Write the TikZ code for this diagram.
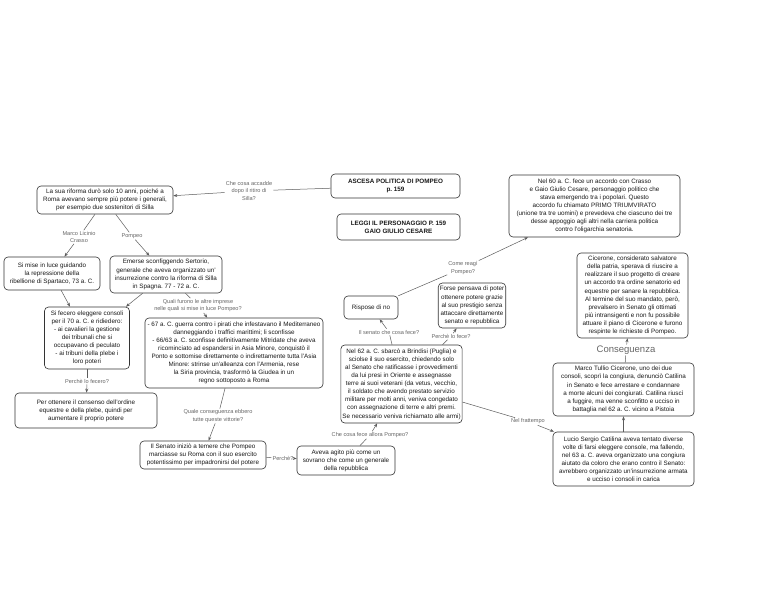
\documentclass[tikz,border=0pt]{standalone}
\usepackage{fontspec}
\setmainfont{Liberation Sans}
\usetikzlibrary{arrows.meta}
\frenchspacing
\definecolor{edgec}{HTML}{333333}
\definecolor{labc}{HTML}{666666}
\tikzset{
  box/.style={draw=edgec, line width=0.6pt, rounded corners=4pt, align=center,
    font=\fontsize{6.3}{8.1}\selectfont, inner sep=1.5pt, text=black!90},
  lab/.style={align=center, font=\fontsize{5.6}{7.2}\selectfont, text=labc, inner sep=1pt},
  conn/.style={draw=edgec!80, line width=0.5pt},
  arr/.style={conn, -{Stealth[length=4pt,width=3pt]}}
}
\begin{document}
\begin{tikzpicture}[x=1pt,y=-1pt]
\useasboundingbox (0,0) rectangle (768,593);
\fill[white] (0,0) rectangle (768,593);

% boxes
\node[box, minimum width=129pt, minimum height=24pt, font=\bfseries\fontsize{6.3}{8.1}\selectfont] (A) at (395.5,186) {ASCESA POLITICA DI POMPEO\\p. 159};
\node[box, minimum width=123pt, minimum height=26pt, font=\bfseries\fontsize{6.3}{8.1}\selectfont] (B) at (398.5,227) {LEGGI IL PERSONAGGIO P. 159\\GAIO GIULIO CESARE};
\node[box, minimum width=171pt, minimum height=62pt] (C) at (594.5,206) {Nel 60 a. C. fece un accordo con Crasso\\e Gaio Giulio Cesare, personaggio politico che\\stava emergendo tra i popolari. Questo\\accordo fu chiamato PRIMO TRIUMVIRATO\\(unione tra tre uomini) e prevedeva che ciascuno dei tre\\desse appoggio agli altri nella carriera politica\\contro l'oligarchia senatoria.};
\node[box, minimum width=136pt, minimum height=28pt] (D) at (105,200) {La sua riforma durò solo 10 anni, poiché a\\Roma avevano sempre più potere i generali,\\per esempio due sostenitori di Silla};
\node[box, minimum width=96pt, minimum height=33pt] (E) at (52,273.5) {Si mise in luce guidando\\la repressione della\\ribellione di Spartaco, 73 a. C.};
\node[box, minimum width=112pt, minimum height=37pt] (F) at (166,274.5) {Emerse sconfiggendo Sertorio,\\generale che aveva organizzato un'\\insurrezione contro la riforma di Silla\\in Spagna. 77 - 72 a. C.};
\node[box, minimum width=85pt, minimum height=62pt] (G) at (87,338) {Si fecero eleggere consoli\\per il 70 a. C. e ridiedero:\\- ai cavalieri la gestione\\dei tribunali che si\\occupavano di peculato\\- ai tribuni della plebe i\\loro poteri};
\node[box, minimum width=178pt, minimum height=70pt] (H) at (234,353) {- 67 a. C. guerra contro i pirati che infestavano il Mediterraneo\\danneggiando i traffici marittimi; li sconfisse\\- 66/63 a. C. sconfisse definitivamente Mitridate che aveva\\ricominciato ad espandersi in Asia Minore, conquistò il\\Ponto e sottomise direttamente o indirettamente tutta l'Asia\\Minore: strinse un'alleanza con l'Armenia, rese\\la Siria provincia, trasformò la Giudea in un\\regno sottoposto a Roma};
\node[box, minimum width=142pt, minimum height=35pt] (I) at (86,410.5) {Per ottenere il consenso dell'ordine\\equestre e della plebe, quindi per\\aumentare il proprio potere};
\node[box, minimum width=126pt, minimum height=28pt] (J) at (203,455) {Il Senato iniziò a temere che Pompeo\\marciasse su Roma con il suo esercito\\potentissimo per impadronirsi del potere};
\node[box, minimum width=98pt, minimum height=29pt] (K) at (346,460.5) {Aveva agito più come un\\sovrano che come un generale\\della repubblica};
\node[box, minimum width=113pt, minimum height=78pt] (L) at (401.5,384) {Nel 62 a. C. sbarcò a Brindisi (Puglia) e\\sciolse il suo esercito, chiedendo solo\\al Senato che ratificasse i provvedimenti\\da lui presi in Oriente e assegnasse\\terre ai suoi veterani (da vetus, vecchio,\\il soldato che avendo prestato servizio\\militare per molti anni, veniva congedato\\con assegnazione di terre e altri premi.\\Se necessario veniva richiamato alle armi)};
\node[box, minimum width=54pt, minimum height=23pt] (M) at (371,307.5) {Rispose di no};
\node[box, minimum width=66pt, minimum height=45pt] (N) at (472,305.5) {Forse pensava di poter\\ottenere potere grazie\\al suo prestigio senza\\attaccare direttamente\\senato e repubblica};
\node[box, minimum width=111pt, minimum height=85pt] (O) at (632.5,295.5) {Cicerone, considerato salvatore\\della patria, sperava di riuscire a\\realizzare il suo progetto di creare\\un accordo tra ordine senatorio ed\\equestre per sanare la repubblica.\\Al termine del suo mandato, però,\\prevalsero in Senato gli ottimati\\più intransigenti e non fu possibile\\attuare il piano di Cicerone e furono\\respinte le richieste di Pompeo.};
\node[box, minimum width=141pt, minimum height=53pt] (P) at (623.5,389.5) {Marco Tullio Cicerone, uno dei due\\consoli, scoprì la congiura, denunciò Catilina\\in Senato e fece arrestare e condannare\\a morte alcuni dei congiurati. Catilina riuscì\\a fuggire, ma venne sconfitto e ucciso in\\battaglia nel 62 a. C. vicino a Pistoia};
\node[box, minimum width=141pt, minimum height=54pt] (Q) at (623.5,459) {Lucio Sergio Catilina aveva tentato diverse\\volte di farsi eleggere console, ma fallendo,\\nel 63 a. C. aveva organizzato una congiura\\aiutato da coloro che erano contro il Senato:\\avrebbero organizzato un'insurrezione armata\\e ucciso i consoli in carica};

% labels
\node[lab] (l1) at (249,191) {Che cosa accadde\\dopo il ritiro di\\Silla?};
\node[lab] (l2) at (79,237) {Marco Licinio\\Crasso};
\node[lab] (l3) at (132,236) {Pompeo};
\node[lab] (l4) at (198,305.5) {Quali furono le altre imprese\\nelle quali si mise in luce Pompeo?};
\node[lab] (l5) at (87,381) {Perchè lo fecero?};
\node[lab] (l6) at (218,416) {Quale conseguenza ebbero\\tutte queste vittorie?};
\node[lab] (l7) at (283,458) {Perchè?};
\node[lab] (l8) at (370,435) {Che cosa fece allora Pompeo?};
\node[lab] (l9) at (389,332) {Il senato che cosa fece?};
\node[lab] (l10) at (451,336.5) {Perchè lo fece?};
\node[lab] (l11) at (463,268) {Come reagì\\Pompeo?};
\node[lab] (l12) at (528,421.5) {Nel frattempo};
\node[lab, font=\fontsize{9.5}{11}\selectfont] (l13) at (626,350) {Conseguenza};

% connectors
\draw[conn] (A) -- (l1);
\draw[arr] (l1) -- (D);
\draw[conn] (D) -- (l2);
\draw[arr] (l2) -- (E);
\draw[conn] (D) -- (l3);
\draw[arr] (l3) -- (F);
\draw[arr] (E) -- (G);
\draw[arr] (F) -- (G);
\draw[conn] (F) -- (l4);
\draw[arr] (l4) -- (H);
\draw[conn] (G) -- (l5);
\draw[arr] (l5) -- (I);
\draw[conn] (H) -- (l6);
\draw[arr] (l6) -- (J);
\draw[conn] (J) -- (l7);
\draw[arr] (l7) -- (K);
\draw[conn] (K) -- (l8);
\draw[arr] (l8) -- (L);
\draw[conn] (L) -- (l9);
\draw[arr] (l9) -- (M);
\draw[conn] (L) -- (l10);
\draw[arr] (l10) -- (N);
\draw[conn] (M) -- (l11);
\draw[arr] (l11) -- (C);
\draw[conn] (L) -- (l12);
\draw[arr] (l12) -- (Q);
\draw[arr] (Q) -- (P);
\draw[conn] (P) -- (l13);
\draw[arr] (l13) -- (O);
\end{tikzpicture}
\end{document}
